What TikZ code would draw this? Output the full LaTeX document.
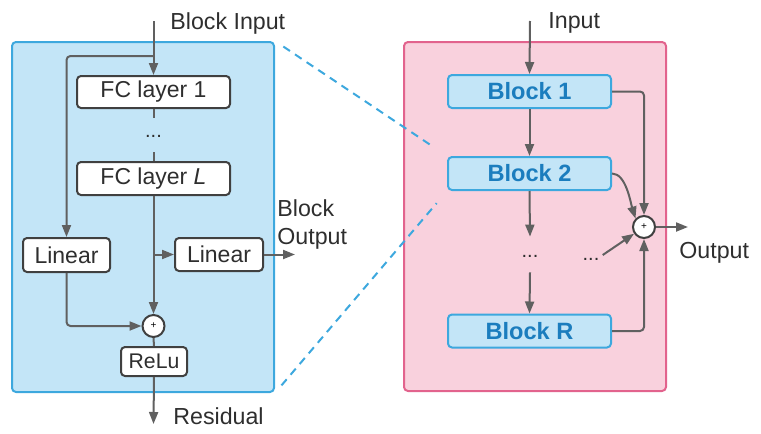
\documentclass[tikz,border=0pt]{standalone}
\usepackage{fontspec}
\setmainfont{Liberation Sans}
\usetikzlibrary{arrows.meta, positioning, calc}
\definecolor{panelblue}{HTML}{C3E5F7}
\definecolor{edgeblue}{HTML}{3DA8DE}
\definecolor{panelpink}{HTML}{F9D1DD}
\definecolor{edgepink}{HTML}{E2638D}
\definecolor{linegray}{HTML}{606060}
\definecolor{boxgray}{HTML}{404040}
\definecolor{textgray}{HTML}{2E2E2E}
\definecolor{blocktext}{HTML}{1B7DBE}

\tikzset{
  layerbox/.style={draw=boxgray, fill=white, rounded corners=2pt, line width=1pt, inner sep=0pt, text=textgray, font=\fontsize{11.5}{13}\selectfont},
  blockbox/.style={draw=edgeblue, fill=panelblue, rounded corners=2pt, line width=1pt, inner sep=0pt, minimum width=81.5pt, minimum height=16.5pt, text=blocktext, font=\fontsize{11.8}{13}\selectfont\bfseries},
  sumnode/.style={circle, draw=boxgray, fill=white, line width=1pt, inner sep=0pt, minimum size=11pt, font=\fontsize{5}{5}\selectfont},
  flow/.style={draw=linegray, line width=1pt, rounded corners=2pt, -{Triangle[length=6pt,width=4.5pt]}},
  plainflow/.style={draw=linegray, line width=1pt},
  lbl/.style={text=textgray, font=\fontsize{11.6}{14}\selectfont, inner sep=0pt},
  dotsnode/.style={text=textgray, font=\fontsize{10}{10}\selectfont, inner sep=0pt}
}

\begin{document}
\begin{tikzpicture}[x=0.5pt, y=-0.5pt]
  \useasboundingbox (0,0) rectangle (761,434);

  % Panels
  \node[draw=edgeblue, fill=panelblue, rounded corners=2pt, line width=1pt, minimum width=131pt, minimum height=175pt, inner sep=0pt] (lbox) at (143,217) {};
  \node[draw=edgepink, fill=panelpink, rounded corners=2pt, line width=1pt, minimum width=131pt, minimum height=174.5pt, inner sep=0pt] (rbox) at (535,216.5) {};

  % Residual block
  \node[layerbox, minimum width=76.5pt, minimum height=16pt] (fc1) at (153.5,92) {FC layer 1};
  \node[dotsnode, minimum height=17pt] (dots1) at (153.5,135) {\raisebox{-2pt}{...}};
  \node[layerbox, minimum width=76.5pt, minimum height=16.5pt] (fcl) at (153.5,178.5) {FC layer \textit{L}};
  \node[layerbox, minimum width=43.5pt, minimum height=17pt] (linL) at (66.5,255) {Linear};
  \node[layerbox, minimum width=44pt, minimum height=16.5pt] (linR) at (219,254.5) {Linear};
  \node[sumnode] (sumL) at (153.5,326) {+};
  \node[layerbox, minimum width=33pt, minimum height=14.5pt, font=\fontsize{10.6}{12}\selectfont] (relu) at (154,361.5) {ReLu};

  \coordinate (inL) at (153.5,21);
  \coordinate (split) at (153.5,56);
  \coordinate (tap) at (153.5,254.5);
  \coordinate (resOut) at (153.5,424);
  \coordinate (blkOut) at (295,254.5);

  \node[lbl, anchor=west] (inLabel) at (170,23) {Block Input};
  \node[lbl, anchor=west, align=left] (outLabel) at (277,224) {Block\\Output};
  \node[lbl, anchor=west] (resLabel) at (173,416) {Residual};

  \draw[flow] (inL) -- (fc1.north);
  \draw[flow] (split) -| (linL.north);
  \draw[plainflow] (fc1.south) -- (dots1.north);
  \draw[plainflow] (dots1.south) -- (fcl.north);
  \draw[flow] (fcl.south) -- (sumL.north);
  \draw[flow] (tap) -- (linR.west);
  \draw[flow] (linR.east) -- (blkOut);
  \draw[flow] (linL.south) |- (sumL.west);
  \draw[plainflow] (sumL.south) -- (relu.north);
  \draw[flow] (relu.south) -- (resOut);

  % Stacked blocks
  \node[blockbox] (b1) at (529.5,91.5) {Block 1};
  \node[blockbox] (b2) at (529.5,173.5) {Block 2};
  \node[dotsnode, minimum height=17.5pt] (dots2) at (530,254.5) {\raisebox{-2.5pt}{...}};
  \node[dotsnode] (dots3) at (591,259) {...};
  \node[blockbox] (bR) at (529.5,331) {Block R};
  \node[sumnode] (sumR) at (644,227) {+};

  \coordinate (inR) at (530,21);
  \coordinate (outR) at (688,227);

  \node[lbl, anchor=west] (inRLabel) at (548,23) {Input};
  \node[lbl, anchor=west] (outRLabel) at (679,253) {Output};

  \draw[flow] (inR) -- (b1.north);
  \draw[flow] (b1.south) -- (b2.north);
  \draw[flow] (b2.south) -- (dots2.north);
  \draw[flow] (dots2.south) -- (bR.north);
  \draw[flow] (b1.east) -| (sumR.north);
  \draw[flow] (bR.east) -| (sumR.south);
  \draw[flow] (b2.east) .. controls +(14,0) and +(-5,-16) .. (sumR.north west);
  \draw[flow] (dots3.east) ++(3,-4) -- (sumR);
  \draw[flow] (sumR.east) -- (outR);

  % Zoom lines
  \draw[edgeblue, line width=1pt, dash pattern=on 4pt off 3pt, shorten <=5pt, shorten >=8pt] (lbox.north east) -- (b2.north west);
  \draw[edgeblue, line width=1pt, dash pattern=on 4pt off 3pt, shorten <=5pt, shorten >=8pt] (lbox.south east) -- (b2.south west);
\end{tikzpicture}
\end{document}
